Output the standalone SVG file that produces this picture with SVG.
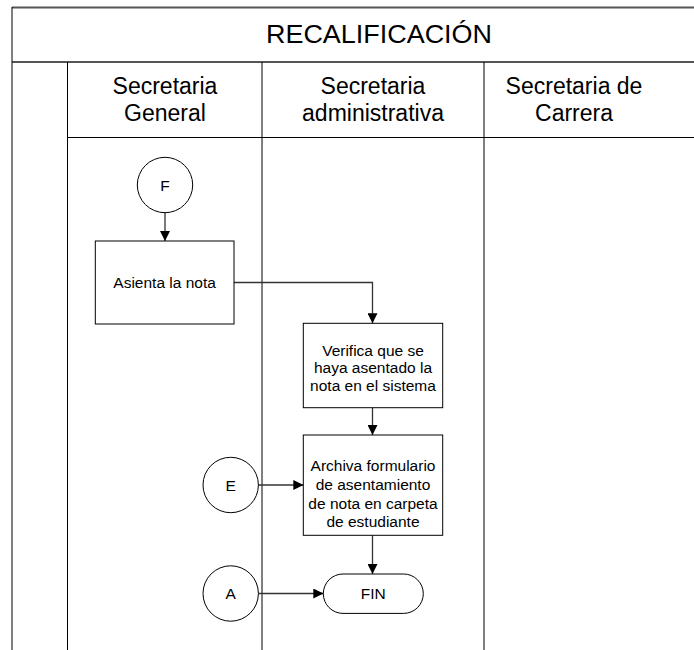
<svg xmlns="http://www.w3.org/2000/svg" width="694" height="650" viewBox="0 0 694 650">
<defs>
<marker id="arr" viewBox="0 0 10 10" refX="10" refY="5" markerWidth="10" markerHeight="10" markerUnits="userSpaceOnUse" orient="auto">
<path d="M0,0 L10,5 L0,10 Z" fill="#000"/>
</marker>
<style>
text{font-family:"Liberation Sans",Arial,sans-serif;fill:#000;text-anchor:middle}
.frame{stroke:#555;stroke-width:2;fill:none}
.lane{stroke:#000;stroke-width:1;fill:none}
.shape{fill:#fff;stroke:#000;stroke-width:1}
.conn{stroke:#333;stroke-width:1.3;fill:none;marker-end:url(#arr)}
.title{font-size:26px}
.head{font-size:23px}
.lbl{font-size:15.5px}
</style>
</defs>
<rect width="694" height="650" fill="#fff"/>
<g id="pool">
<line class="frame" x1="12" y1="7.5" x2="694" y2="7.5"/>
<line class="frame" x1="12" y1="62" x2="694" y2="62"/>
<line class="lane" x1="12" y1="7" x2="12" y2="650"/>
<line class="lane" x1="67.5" y1="62" x2="67.5" y2="650"/>
<line class="lane" x1="262" y1="62" x2="262" y2="650"/>
<line class="lane" x1="484" y1="62" x2="484" y2="650"/>
<line class="lane" x1="67.5" y1="137.5" x2="694" y2="137.5"/>
<text class="title" x="379" y="42.5" textLength="226" lengthAdjust="spacingAndGlyphs">RECALIFICACIÓN</text>
</g>
<g id="lane-general">
<text class="head" x="165" y="94">Secretaria</text>
<text class="head" x="165" y="121">General</text>
</g>
<g id="lane-admin">
<text class="head" x="373" y="94">Secretaria</text>
<text class="head" x="373" y="121">administrativa</text>
</g>
<g id="lane-carrera">
<text class="head" x="574" y="94">Secretaria de</text>
<text class="head" x="574" y="121">Carrera</text>
</g>
<g id="connectors">
<line class="conn" x1="165" y1="212.7" x2="165" y2="241"/>
<polyline class="conn" points="234,282.5 372.5,282.5 372.5,323.3"/>
<line class="conn" x1="372.5" y1="407.7" x2="372.5" y2="435"/>
<line class="conn" x1="258.4" y1="485" x2="303.3" y2="485"/>
<line class="conn" x1="372.5" y1="535.3" x2="372.5" y2="574"/>
<line class="conn" x1="258.4" y1="593.5" x2="323.3" y2="593.5"/>
</g>
<g id="node-F">
<circle class="shape" cx="165" cy="185" r="27.7"/>
<text class="lbl" x="165" y="190.5">F</text>
</g>
<g id="node-asienta">
<rect class="shape" x="95.3" y="241" width="138.7" height="83"/>
<text class="lbl" x="164.6" y="288">Asienta la nota</text>
</g>
<g id="node-verifica">
<rect class="shape" x="303.3" y="323.3" width="139.4" height="84.4"/>
<text class="lbl" x="373" y="355.5">Verifica que se</text>
<text class="lbl" x="373" y="373.3">haya asentado la</text>
<text class="lbl" x="373" y="391">nota en el sistema</text>
</g>
<g id="node-archiva">
<rect class="shape" x="303.3" y="435" width="139.4" height="100.3"/>
<text class="lbl" x="373" y="470.7">Archiva formulario</text>
<text class="lbl" x="373" y="489.6">de asentamiento</text>
<text class="lbl" x="373" y="508.5">de nota en carpeta</text>
<text class="lbl" x="373" y="527.3">de estudiante</text>
</g>
<g id="node-E">
<circle class="shape" cx="230.7" cy="485" r="27.7"/>
<text class="lbl" x="230.7" y="490.5">E</text>
</g>
<g id="node-A">
<circle class="shape" cx="230.7" cy="593.5" r="27.7"/>
<text class="lbl" x="230.7" y="599">A</text>
</g>
<g id="node-fin">
<rect class="shape" x="323.3" y="574" width="100" height="39.4" rx="19.7" ry="19.7"/>
<text class="lbl" x="373.3" y="599">FIN</text>
</g>
</svg>
